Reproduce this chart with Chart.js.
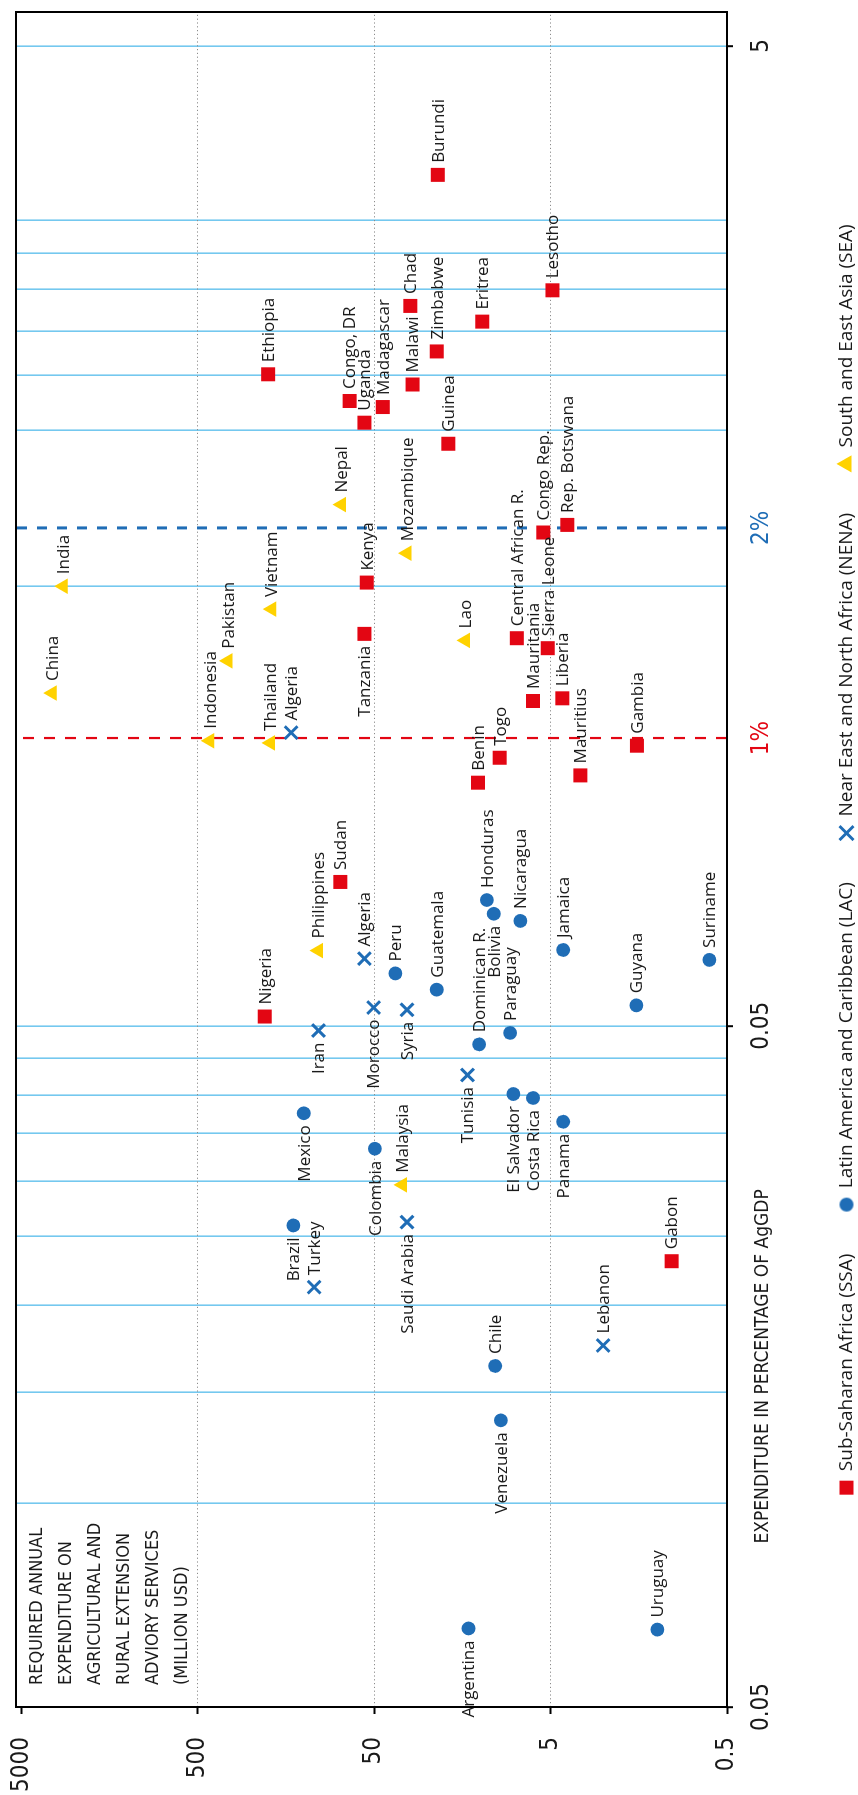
<!DOCTYPE html>
<html>
<head>
<meta charset="utf-8">
<script src="https://cdn.jsdelivr.net/npm/chart.js@4.4.1/dist/chart.umd.min.js"></script>
<style>
  html, body { margin: 0; padding: 0; background: #fff; overflow: hidden; width: 858px; height: 1795px; }
  /* the chart is laid out landscape and turned a quarter turn counter-clockwise */
  #wrap { position: absolute; left: 0; top: 1795px; width: 1795px; height: 880px;
          transform-origin: 0 0; transform: rotate(-90deg); }
</style>
</head>
<body>
<div id="wrap"><canvas id="c" width="1795" height="880"></canvas></div>
<script>
// ---- Sub-Saharan Africa (SSA) ----
const ssaNames = ['Burundi', 'Lesotho', 'Chad', 'Eritrea', 'Zimbabwe', 'Ethiopia', 'Malawi', 'Congo, DR',
  'Madagascar', 'Guinea', 'Uganda', 'Rep. Botswana', 'Congo Rep.', 'Kenya', 'Central African R.',
  'Sierra Leone', 'Mauritania', 'Tanzania', 'Liberia', 'Togo', 'Benin', 'Gambia', 'Mauritius',
  'Sudan', 'Nigeria', 'Gabon'];
const ssaPct = [6.41, 4.38, 4.16, 3.95, 3.58, 3.32, 3.21, 3.04, 2.98, 2.64, 2.83, 2.02, 1.97, 1.67, 1.39,
  1.345, 1.13, 1.41, 1.14, 0.937, 0.863, 0.975, 0.884, 0.622, 0.399, 0.178];
const ssaUsd = [21.8, 4.88, 31.2, 12.2, 22.1, 199.6, 30.3, 68.9, 44.7, 19.0, 56.8, 4.02, 5.50, 55.1, 7.77,
  5.19, 6.29, 56.8, 4.29, 9.72, 12.9, 1.62, 3.39, 77.8, 208.7, 1.03];

// ---- Latin America and Caribbean (LAC) ----
const lacNames = ['Honduras', 'Bolivia', 'Nicaragua', 'Peru', 'Guatemala', 'Jamaica', 'Paraguay',
  'Dominican R.', 'Guyana', 'Suriname', 'Mexico', 'El Salvador', 'Costa Rica', 'Panama', 'Colombia',
  'Brazil', 'Chile', 'Venezuela', 'Argentina', 'Uruguay'];
const lacPct = [0.586, 0.56, 0.547, 0.46, 0.436, 0.497, 0.378, 0.364, 0.414, 0.481, 0.29, 0.309, 0.305,
  0.282, 0.258, 0.2003, 0.126, 0.1053, 0.053, 0.0528];
const lacUsd = [11.5, 10.5, 7.42, 37.9, 22.1, 4.24, 8.49, 12.7, 1.63, 0.629, 125.4, 8.12, 6.29, 4.24,
  49.6, 143.7, 10.3, 9.57, 14.6, 1.24];

// ---- Near East and North Africa (NENA) ----
const nenaNames = ['Algeria', 'Algeria', 'Iran', 'Morocco', 'Syria', 'Tunisia', 'Saudi Arabia', 'Turkey', 'Lebanon'];
const nenaPct = [1.018, 0.483, 0.381, 0.411, 0.408, 0.329, 0.2025, 0.1634, 0.1348];
const nenaUsd = [147.8, 56.8, 103.4, 50.4, 32.6, 14.8, 32.6, 109.6, 2.52];

// ---- South and East Asia (SEA) ----
const seaNames = ['India', 'China', 'Pakistan', 'Vietnam', 'Indonesia', 'Thailand', 'Nepal', 'Mozambique',
  'Lao', 'Philippines', 'Malaysia'];
const seaPct = [1.65, 1.16, 1.29, 1.53, 0.991, 0.984, 2.16, 1.84, 1.38, 0.496, 0.229];
const seaUsd = [2892, 3339, 336.6, 190.7, 428, 193.7, 76.5, 32.6, 15.2, 103.4, 34.6];

// ---- axes ----
const xMin = 0.0409, xMax = 10.97;           // expenditure, % of AgGDP
const yMin = 0.5, yMax = 5365;               // million USD
const xGridValues = [9.81, 5.52, 4.95, 4.40, 3.83, 3.31, 2.76, 1.65, 0.387, 0.348, 0.308, 0.2715,
  0.232, 0.1935, 0.154, 0.1155, 0.0802];
const xLabelValues = [9.81, 0.387, xMin];
const xLabelTexts = ['5', '0.05', '0.05'];
const thresholdValues = [2, 1];
const thresholdTexts = ['2%', '1%'];
const yTickValues = [0.5, 5, 50, 500, 5000];
const yTickTexts = ['0.5', '5', '50', '500', '5000'];
const yGridValues = [500, 50, 5];
const xTitle = 'EXPENDITURE IN PERCENTAGE OF AgGDP';
const yTitleLines = ['REQUIRED ANNUAL', 'EXPENDITURE ON', 'AGRICULTURAL AND', 'RURAL EXTENSION',
  'ADVIORY SERVICES', '(MILLION USD)'];

// names whose label sits before the marker instead of after it
const labelsBefore = ['Tanzania', 'Iran', 'Morocco', 'Syria', 'Tunisia', 'Saudi Arabia', 'Mexico',
  'El Salvador', 'Costa Rica', 'Panama', 'Colombia', 'Brazil', 'Venezuela', 'Argentina', 'Bolivia'];

const RED = '#e30613', BLUE = '#1f6db6', YELLOW = '#ffd200', GRID_BLUE = '#74c8ef';
const CLEAR = 'rgba(0,0,0,0)';
const AXIS_FONT = "'DejaVu Sans Condensed', 'Liberation Sans Narrow', Roboto, sans-serif";
const LABEL_FONT = "'Open Sans', 'Noto Sans', sans-serif";

function region(label, names, pct, usd, style) {
  return Object.assign({
    label, names,
    data: names.map((n, i) => ({ x: pct[i], y: usd[i] })),
    order: 0
  }, style);
}

function thresholdLine(value, color, dash, width) {
  return {
    label: '', showLine: true, pointRadius: 0, borderColor: color, borderWidth: width,
    borderDash: dash, order: 5, data: [{ x: value, y: yMin }, { x: value, y: yMax }]
  };
}

const datasets = [
  region('Sub-Saharan Africa (SSA)', ssaNames, ssaPct, ssaUsd,
    { pointStyle: 'rect', pointRadius: 9.9, backgroundColor: RED, borderColor: RED, borderWidth: 0 }),
  region('Latin America and Caribbean (LAC)', lacNames, lacPct, lacUsd,
    { pointStyle: 'circle', pointRadius: 6.9, backgroundColor: BLUE, borderColor: BLUE, borderWidth: 0 }),
  region('Near East and North Africa (NENA)', nenaNames, nenaPct, nenaUsd,
    { pointStyle: 'crossRot', pointRadius: 9, backgroundColor: BLUE, borderColor: BLUE, borderWidth: 3 }),
  region('South and East Asia (SEA)', seaNames, seaPct, seaUsd,
    { pointStyle: 'triangle', pointRadius: 9, backgroundColor: YELLOW, borderColor: YELLOW, borderWidth: 0 }),
  thresholdLine(thresholdValues[0], BLUE, [10, 10], 3),
  thresholdLine(thresholdValues[1], RED, [11, 10], 2.2)
];

// smaller round swatch for the legend, matching the plotted dots
const legendDot = document.createElement('canvas');
legendDot.width = 16; legendDot.height = 16;
(g => { g.fillStyle = BLUE; g.beginPath(); g.arc(8, 8, 7, 0, Math.PI * 2); g.fill(); })(legendDot.getContext('2d'));

// country names next to the markers
const pointLabels = {
  id: 'pointLabels',
  afterDatasetsDraw(chart) {
    const ctx = chart.ctx;
    ctx.save();
    ctx.font = '17px ' + LABEL_FONT;
    ctx.fillStyle = '#1a1a1a';
    ctx.textBaseline = 'middle';
    chart.data.datasets.forEach((ds, i) => {
      if (!ds.names) return;
      chart.getDatasetMeta(i).data.forEach((pt, j) => {
        const name = ds.names[j];
        const before = labelsBefore.includes(name);
        ctx.textAlign = before ? 'right' : 'left';
        ctx.fillText(name, pt.x + (before ? -12 : 12), pt.y + 1);
      });
    });
    ctx.restore();
  }
};

// plot frame and the two axis captions
const frameAndTitles = {
  id: 'frameAndTitles',
  afterDraw(chart) {
    const { ctx, chartArea: a, scales } = chart;
    ctx.save();
    ctx.strokeStyle = '#000';
    ctx.lineWidth = 2;
    ctx.strokeRect(a.left, a.top, a.right - a.left, a.bottom - a.top);

    ctx.fillStyle = '#1a1a1a';
    ctx.textBaseline = 'middle';
    ctx.textAlign = 'center';
    ctx.font = '19px ' + AXIS_FONT;
    const xs = scales.x;
    const cx = (xs.getPixelForValue(xLabelValues[2]) + xs.getPixelForValue(xLabelValues[1])) / 2;
    ctx.fillText(xTitle, cx, a.bottom + 36);

    ctx.textAlign = 'left';
    ctx.font = '18px ' + AXIS_FONT;
    yTitleLines.forEach((line, k) => ctx.fillText(line, a.left + 22, a.top + 21 + k * 29));
    ctx.restore();
  }
};

new Chart(document.getElementById('c'), {
  type: 'scatter',
  data: { datasets },
  options: {
    responsive: false,
    animation: false,
    devicePixelRatio: 1,
    layout: { padding: { top: 16, right: 5, left: 0, bottom: 14 } },
    scales: {
      x: {
        type: 'logarithmic', position: 'bottom', min: xMin, max: xMax,
        afterBuildTicks: s => {
          const vals = [...new Set([...xGridValues, ...thresholdValues, xMin])].sort((p, q) => p - q);
          s.ticks = vals.map(v => ({ value: v }));
        },
        afterFit: s => { s.height = 68; s.paddingLeft = 0; s.paddingRight = 0; },
        border: { display: false },
        grid: {
          color: c => (c.tick && xGridValues.includes(c.tick.value)) ? GRID_BLUE : CLEAR,
          lineWidth: 1.6,
          tickLength: 6,
          tickWidth: 2,
          tickColor: c => (c.tick && xLabelValues.includes(c.tick.value)) ? '#000' : CLEAR
        },
        ticks: {
          autoSkip: false, maxRotation: 0, minRotation: 0, padding: 14,
          font: { family: AXIS_FONT, size: 24 },
          color: c => {
            const k = thresholdValues.indexOf(c.tick.value);
            return k === 0 ? BLUE : k === 1 ? RED : '#1a1a1a';
          },
          callback: v => {
            const k = xLabelValues.indexOf(v);
            if (k >= 0) return xLabelTexts[k];
            const t = thresholdValues.indexOf(v);
            return t >= 0 ? thresholdTexts[t] : '';
          }
        }
      },
      y: {
        type: 'logarithmic', position: 'left', min: yMin, max: yMax,
        afterBuildTicks: s => { s.ticks = yTickValues.map(v => ({ value: v })); },
        afterFit: s => { s.width = 88; s.paddingTop = 0; s.paddingBottom = 0; },
        border: { display: false, dash: c => (c.type === 'tick' ? [1.2, 2.6] : []) },
        grid: {
          color: c => (c.tick && yGridValues.includes(c.tick.value)) ? '#8c8c8c' : CLEAR,
          lineWidth: 1,
          tickLength: 7,
          tickWidth: 2,
          tickColor: '#000'
        },
        ticks: {
          autoSkip: false, padding: 23,
          font: { family: AXIS_FONT, size: 24 },
          color: '#1a1a1a',
          callback: v => {
            const k = yTickValues.indexOf(v);
            return k >= 0 ? yTickTexts[k] : '';
          }
        }
      }
    },
    plugins: {
      tooltip: { enabled: false },
      legend: {
        position: 'bottom',
        fullSize: false,
        labels: {
          usePointStyle: true, boxWidth: 14, boxHeight: 14, padding: 42,
          color: '#1a1a1a',
          font: { family: LABEL_FONT, size: 19 },
          generateLabels: chart => Chart.defaults.plugins.legend.labels.generateLabels(chart)
            .map(item => item.pointStyle === 'circle' ? Object.assign(item, { pointStyle: legendDot }) : item),
          filter: item => item.text !== ''
        }
      }
    }
  },
  plugins: [pointLabels, frameAndTitles]
});
</script>
</body>
</html>
